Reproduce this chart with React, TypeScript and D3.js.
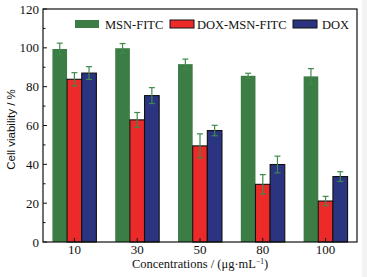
import React from "react";
import * as d3 from "d3";

const categories = ["10", "30", "50", "80", "100"];
const seriesNames = ["MSN-FITC", "DOX-MSN-FITC", "DOX"];
const msnFitc = [99.4, 99.8, 91.6, 85.6, 85.3];
const msnFitcErr = [3, 2.4, 2.6, 1.3, 4];
const doxMsnFitc = [83.8, 62.9, 49.5, 29.7, 21.1];
const doxMsnFitcErr = [3.4, 3.8, 6.2, 5, 2.4];
const dox = [87, 75.4, 57.4, 39.9, 33.7];
const doxErr = [3.3, 4.1, 2.7, 4.3, 2.5];
const yTicks = [0, 20, 40, 60, 80, 100, 120];

const colors = ["#3b7d44", "#ec2a2a", "#2a3480"];
const strokes = ["none", "#111", "#111"];
const errColor = "#3f8a4c";

export default function App() {
  const W = 367, H = 277;
  const L = 43, R = 357, T = 9, B = 242;
  const values = [msnFitc, doxMsnFitc, dox];
  const errs = [msnFitcErr, doxMsnFitcErr, doxErr];
  const x0 = d3.scaleBand<string>().domain(categories).range([L, R]).paddingInner(0.3).paddingOuter(0.15);
  const x1 = d3.scaleBand<string>().domain(seriesNames).range([0, x0.bandwidth()]);
  const y = d3.scaleLinear().domain([0, 120]).range([B, T]);
  const minor = d3.range(10, 120, 20);
  const font = "'Liberation Serif', 'Times New Roman', serif";
  const legend = [
    { x: 75, tx: 105 },
    { x: 170, tx: 197 },
    { x: 293, tx: 322 },
  ];
  return (
    <svg width={W} height={H} style={{ position: "absolute", left: 0, top: 0, background: "#fff" }}>
      <rect x={362} y={0} width={5} height={H} fill="#f3f3f3" />
      {categories.map((c, i) =>
        seriesNames.map((s, j) => {
          const v = values[j][i];
          const bx = (x0(c) as number) + (x1(s) as number);
          const bw = x1.bandwidth();
          return (
            <rect key={c + s} x={bx} y={y(v)} width={bw} height={B - y(v)} fill={colors[j]}
              stroke={strokes[j]} strokeWidth={strokes[j] === "none" ? 0 : 1.1} />
          );
        })
      )}
      {categories.map((c, i) =>
        seriesNames.map((s, j) => {
          const v = values[j][i];
          const e = errs[j][i];
          const cx = (x0(c) as number) + (x1(s) as number) + x1.bandwidth() / 2;
          return (
            <g key={"e" + c + s} stroke={errColor} strokeWidth={1.2}>
              <line x1={cx} x2={cx} y1={y(v + e)} y2={y(v - e)} />
              <line x1={cx - 3} x2={cx + 3} y1={y(v + e)} y2={y(v + e)} />
              <line x1={cx - 3} x2={cx + 3} y1={y(v - e)} y2={y(v - e)} />
            </g>
          );
        })
      )}
      <rect x={L} y={T} width={R - L} height={B - T} fill="none" stroke="#111" strokeWidth={1.2} />
      {yTicks.map((t) => (
        <g key={"yt" + t}>
          <line x1={L} x2={L + 4} y1={y(t)} y2={y(t)} stroke="#111" />
          <text x={L - 4} y={y(t) + 4.5} textAnchor="end" fontFamily={font} fontSize={13} fill="#111">{t}</text>
        </g>
      ))}
      {minor.map((t) => (
        <line key={"m" + t} x1={L} x2={L + 2.5} y1={y(t)} y2={y(t)} stroke="#111" />
      ))}
      {categories.map((c) => {
        const cx = (x0(c) as number) + x0.bandwidth() / 2;
        return (
          <g key={"xt" + c}>
            <line x1={cx} x2={cx} y1={B} y2={B - 4} stroke="#111" />
            <text x={cx} y={B + 11.5} textAnchor="middle" fontFamily={font} fontSize={13} fill="#111">{c}</text>
          </g>
        );
      })}
      {seriesNames.map((s, j) => (
        <g key={"lg" + s}>
          <rect x={legend[j].x} y={20} width={24} height={8} fill={colors[j]} stroke={strokes[j]} strokeWidth={strokes[j] === "none" ? 0 : 1} />
          <text x={legend[j].tx} y={28.5} fontFamily={font} fontSize={12.5} fill="#111">{s}</text>
        </g>
      ))}
      <text transform={`translate(15,${(T + B) / 2 + 4}) rotate(-90)`} textAnchor="middle"
        fontFamily="'Liberation Sans', Arial, sans-serif" fontSize={11.5} fill="#111">Cell viability / %</text>
      <text x={(L + R) / 2} y={268} textAnchor="middle" fontFamily={font} fontSize={12.5} fill="#111">
        Concentrations / (μg·mL<tspan dy={-4} fontSize={7.5}>−1</tspan><tspan dy={4}>)</tspan>
      </text>
    </svg>
  );
}
